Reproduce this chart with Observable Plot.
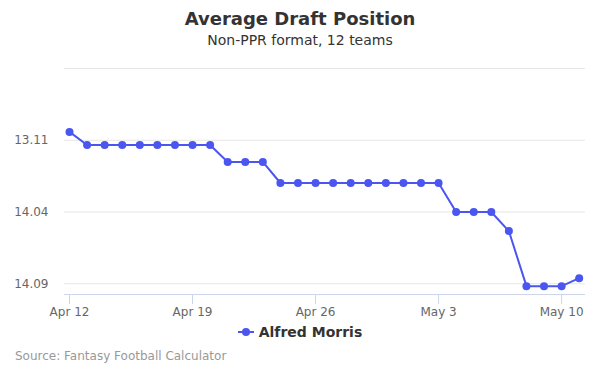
<!DOCTYPE html>
<html>
<head>
<meta charset="utf-8">
<script src="https://cdn.jsdelivr.net/npm/d3@7"></script>
<script src="https://cdn.jsdelivr.net/npm/@observablehq/plot@0.6"></script>
<style>
  html, body { margin: 0; padding: 0; background: #fff; }
  body { font-family: "DejaVu Sans", sans-serif; }
  #wrap { position: relative; width: 600px; height: 375px; overflow: hidden; }
  #title { position: absolute; top: 8px; left: 0; width: 600px; text-align: center; font-size: 18px; font-weight: bold; color: #333; }
  #subtitle { position: absolute; top: 32px; left: 0; width: 600px; text-align: center; font-size: 14px; color: #333; }
  #legend { position: absolute; top: 324px; left: 0; width: 600px; text-align: center; font-size: 14px; font-weight: bold; color: #333; }
  #legend svg { vertical-align: middle; margin-right: 5px; position: relative; top: -1px; }
  #source { position: absolute; top: 349px; left: 15px; font-size: 12px; color: #999; }
  #chart { position: absolute; top: 0; left: 0; }
</style>
</head>
<body>
<div id="wrap">
  <div id="chart"></div>
  <div id="title">Average Draft Position</div>
  <div id="subtitle">Non-PPR format, 12 teams</div>
  <div id="legend"></div>
  <div id="source">Source: Fantasy Football Calculator</div>
</div>
<script>
const seriesName = "Alfred Morris";
const dates = [
  "2018-04-12","2018-04-13","2018-04-14","2018-04-15","2018-04-16","2018-04-17","2018-04-18","2018-04-19",
  "2018-04-20","2018-04-21","2018-04-22","2018-04-23","2018-04-24","2018-04-25","2018-04-26","2018-04-27",
  "2018-04-28","2018-04-29","2018-04-30","2018-05-01","2018-05-02","2018-05-03","2018-05-04","2018-05-05",
  "2018-05-06","2018-05-07","2018-05-08","2018-05-09","2018-05-10","2018-05-11"
];
// overall pick number (12-team league)
const adp = [
  154.42, 155.33, 155.33, 155.33, 155.33, 155.33, 155.33, 155.33,
  155.33, 156.51, 156.51, 156.51, 157.98, 157.98, 157.98, 157.98,
  157.98, 157.98, 157.98, 157.98, 157.98, 157.98, 160.0, 160.0,
  160.0, 161.33, 165.17, 165.17, 165.17, 164.61
];
const yTicks = [155, 160, 165];
const yGrid = [150, 155, 160, 165];
const xTickLabels = ["2018-04-12","2018-04-19","2018-04-26","2018-05-03","2018-05-10"];

const color = "#4b55f0";
const parse = d3.utcParse("%Y-%m-%d");
const data = dates.map((d, i) => ({date: parse(d), adp: adp[i]}));
const xTicks = xTickLabels.map(parse);
const day = 864e5;
const x0 = new Date(+data[0].date - 0.285 * day);
const x1 = new Date(+data[data.length - 1].date + 0.36 * day);
const fmtPick = v => {
  const r = Math.floor((v - 1) / 12) + 1;
  const p = ((v - 1) % 12) + 1;
  return r + "." + String(p).padStart(2, "0");
};
const fmtDate = d3.utcFormat("%b %-d");

const chart = Plot.plot({
  width: 600,
  height: 375,
  marginTop: 68,
  marginBottom: 81,
  marginLeft: 64,
  marginRight: 15,
  style: {fontFamily: "DejaVu Sans, sans-serif", fontSize: "12px", color: "#666", background: "transparent"},
  x: {type: "utc", domain: [x0, x1]},
  y: {domain: [165.75, 150]},
  marks: [
    Plot.ruleY(yGrid, {stroke: "#e6e6e6", strokeWidth: 1}),
    Plot.axisY(yTicks, {tickSize: 0, tickPadding: 16, tickFormat: fmtPick, fill: "#666", fontSize: 12, label: null}),
    Plot.ruleY([165.75], {stroke: "#ccd6eb", strokeWidth: 1}),
    Plot.axisX(xTicks, {tickSize: 10, tickPadding: 3, stroke: "#ccd6eb", tickFormat: fmtDate, fill: "#666", fontSize: 12, label: null}),
    Plot.line(data, {x: "date", y: "adp", stroke: color, strokeWidth: 2}),
    Plot.dot(data, {x: "date", y: "adp", r: 4, fill: color, stroke: "none"})
  ]
});
document.getElementById("chart").appendChild(chart);

document.getElementById("legend").innerHTML =
  `<svg width="16" height="12"><line x1="0" y1="6" x2="16" y2="6" stroke="${color}" stroke-width="2"/><circle cx="8" cy="6" r="4" fill="${color}"/></svg>${seriesName}`;
</script>
</body>
</html>
